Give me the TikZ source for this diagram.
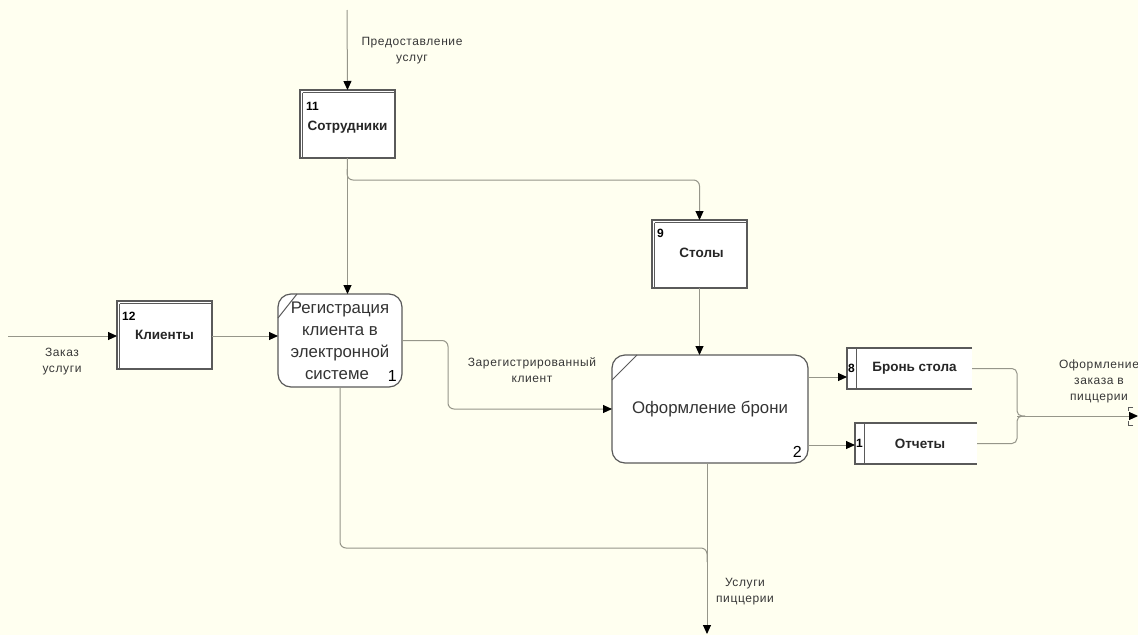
\documentclass[tikz,border=0pt]{standalone}
\usepackage{fontspec}
\setmainfont{Liberation Sans}
\newfontfamily\spacedsans[LetterSpace=5]{Liberation Sans}
\usetikzlibrary{arrows.meta,calc}
\definecolor{paper}{RGB}{255,255,240}
\definecolor{wire}{RGB}{150,150,138}
\definecolor{edge}{RGB}{90,90,90}
\definecolor{ink}{RGB}{55,55,55}
\tikzset{
  wire/.style={draw=wire, line width=1pt},
  conn/.style={wire, -{Triangle[length=9pt,width=8pt,color=black]}},
  lbl/.style={align=center, text=ink, inner sep=0pt, font=\spacedsans\fontsize{12}{16}\selectfont},
  entity/.style={draw=edge, line width=1.2pt, fill=white, inner sep=0pt, outer sep=0pt,
                 minimum width=95pt, minimum height=68pt},
  inner/.style={draw=edge, line width=0.7pt},
  process/.style={draw=edge, line width=1.2pt, fill=white, rounded corners=13pt,
                  inner sep=0pt, outer sep=0pt, align=center, text=black!80,
                  font=\fontsize{16.8}{22}\selectfont},
  store/.style={inner sep=0pt, outer sep=0pt},
  title/.style={inner sep=0pt, text=black!85, font=\bfseries\fontsize{13.5}{16}\selectfont},
  num/.style={inner sep=0pt, text=black, font=\bfseries\fontsize{12}{14}\selectfont},
  pnum/.style={inner sep=0pt, text=black, font=\fontsize{16}{18}\selectfont},
}
\begin{document}
\begin{tikzpicture}[x=1pt,y=-1pt]
\fill[paper] (0,0) rectangle (1138,635);
\useasboundingbox (0,0) rectangle (1138,635);

% external entities
\node[entity] (emp) at (347.5,124) {};
\node[entity] (cli) at (164.5,335) {};
\node[entity] (tab) at (699.5,254) {};
\foreach \e in {emp,cli,tab}{
  \draw[inner] ($(\e.north west)+(2.5,2.5)$) -- ($(\e.north east)+(0,2.5)$);
  \draw[inner] ($(\e.north west)+(2.5,2.5)$) -- ($(\e.south west)+(2.5,0)$);
}
\node[num, anchor=west] (empn) at ($(emp.north west)+(6,16)$) {11};
\node[title] (empt) at ($(emp.center)+(0,3)$) {Сотрудники};
\node[num, anchor=west] (clin) at ($(cli.north west)+(5,15)$) {12};
\node[title] (clit) at ($(cli.center)+(0,0)$) {Клиенты};
\node[num, anchor=west] (tabn) at ($(tab.north west)+(5,13)$) {9};
\node[title] (tabt) at ($(tab.center)+(2,-1)$) {Столы};

% processes
\node[process, minimum width=124pt, minimum height=93pt] (reg) at (340,340.5)
  {Регистрация\\клиента в\\электронной\\системе\hspace*{6pt}};
\draw[edge, line width=1pt] ($(reg.north west)+(0,24)$) -- ($(reg.north west)+(19,0)$);
\node[pnum, anchor=south east] (regn) at ($(reg.south east)+(-5,-5)$) {1};

\node[process, minimum width=196pt, minimum height=108pt] (ord) at (710,409)
  {Оформление брони};
\draw[edge, line width=1pt] ($(ord.north west)+(0,25)$) -- ($(ord.north west)+(25,0)$);
\node[pnum, anchor=south east] (ordn) at ($(ord.south east)+(-6,-5)$) {2};

% data stores (open at the right)
\node[store, minimum width=125pt, minimum height=41pt] (bk) at (909.5,368.5) {};
\node[store, minimum width=122pt, minimum height=41pt] (rp) at (916,443.5) {};
\foreach \s in {bk,rp}{
  \fill[white] (\s.north west) rectangle (\s.south east);
  \draw[edge, line width=1.2pt] (\s.north east) -- (\s.north west) -- (\s.south west) -- (\s.south east);
  \draw[edge, line width=1pt] ($(\s.north west)+(9,0)$) -- ($(\s.south west)+(9,0)$);
}
\node[inner sep=0pt, font=\bfseries\fontsize{12}{14}\selectfont] (bkn) at ($(bk.west)+(4.5,0)$) {8};
\node[title] (bkt) at ($(bk.center)+(5,0)$) {Бронь стола};
\node[inner sep=0pt, font=\bfseries\fontsize{12}{14}\selectfont] (rpn) at ($(rp.west)+(4.5,0)$) {1};
\node[title] (rpt) at ($(rp.center)+(4,0)$) {Отчеты};

% connector end points
\coordinate (src) at (347,10);
\coordinate (ordin) at (8,336);
\coordinate (fork) at (347,180);
\coordinate (bend) at (448,375);
\coordinate (merge) at (707,548);
\coordinate (out) at (707,634);
\coordinate (bkin) at (847,377);
\coordinate (rpin) at (855,445);
\coordinate (join) at (1017,416);
\coordinate (exit) at (1138,416);

% connectors
\draw[conn] (src) -- (emp.north);
\draw[conn] (emp.south) -- (emp.south |- reg.north);
\draw[conn, rounded corners=6pt] (emp.south) -- (fork) -| (tab.north);
\draw[conn] (tab.south) -- (tab.south |- ord.north);
\draw[conn] (ordin) -- (ordin -| cli.west);
\draw[conn] (ordin -| cli.east) -- (ordin -| reg.west);
\draw[conn, rounded corners=6pt] (reg.east) -| (bend) |- (ord.west);
\draw[wire, rounded corners=6pt] (reg.south) |- (merge) -- ++(0,14);
\draw[conn] (out |- ord.south) -- (out);
\draw[conn] (ord.east |- bkin) -- (bkin);
\draw[conn] (ord.east |- rpin) -- (rpin);
\draw[wire, rounded corners=5pt] (bk.east) -| (join) -- ++(8,0);
\draw[wire, rounded corners=5pt] (rp.east) -| (join) -- ++(8,0);
\draw[conn] (join) -- (exit);
\draw[edge, line width=0.8pt] ($(exit)+(-5,-9)$) -- ($(exit)+(-10,-9)$) -- ($(exit)+(-10,-5)$);
\draw[edge, line width=0.8pt] ($(exit)+(-5,9)$) -- ($(exit)+(-10,9)$) -- ($(exit)+(-10,5)$);

% arrow labels
\node[lbl] (l1) at (412,51) {Предоставление\\услуг};
\node[lbl] (l2) at (62,362) {Заказ\\услуги};
\node[lbl] (l3) at (532,370) {Зарегистрированный\\клиент};
\node[lbl] (l4) at (745,592) {Услуги\\пиццерии};
\node[lbl] (l5) at (1099,381) {Оформление\\заказа в\\пиццерии};
\end{tikzpicture}
\end{document}
